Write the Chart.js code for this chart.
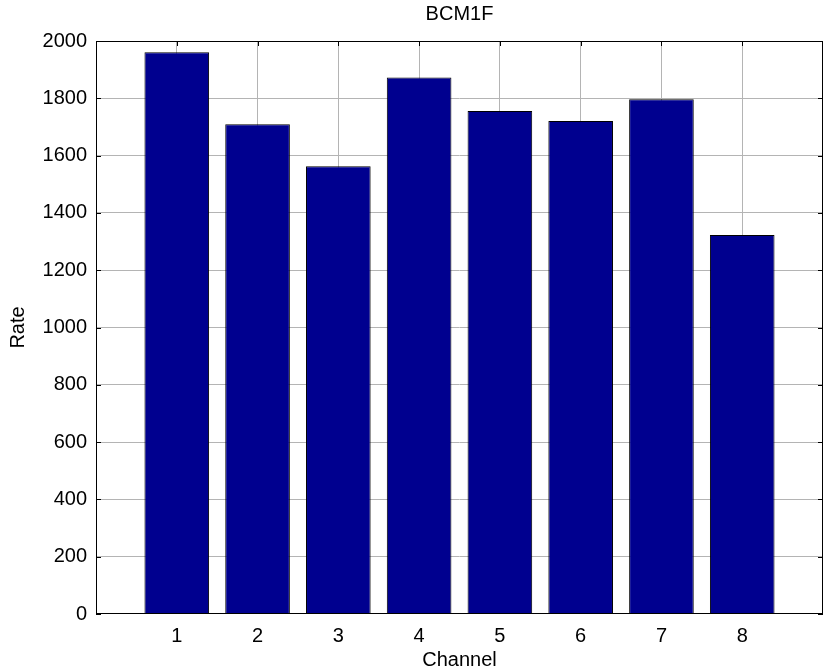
<!DOCTYPE html>
<html>
<head>
<meta charset="utf-8">
<script src="https://cdn.jsdelivr.net/npm/chart.js@4/dist/chart.umd.min.js"></script>
<style>
  html, body { margin: 0; padding: 0; background: #fff; }
  #wrap { width: 827px; height: 670px; }
</style>
</head>
<body>
<div id="wrap"><canvas id="c"></canvas></div>
<script>
// --- data ---
const channels = [1, 2, 3, 4, 5, 6, 7, 8];
const rates = [1961, 1709, 1563, 1873, 1756, 1721, 1797, 1323];
const yTicks = [0, 200, 400, 600, 800, 1000, 1200, 1400, 1600, 1800, 2000];
const chartTitle = "BCM1F";

const FONT = "'Liberation Sans', Arial, Helvetica, sans-serif";
const FS = 20;

// frame around plot area + small inward ticks (matlab style)
const boxPlugin = {
  id: "box",
  afterDraw(chart) {
    const { ctx, chartArea: a, scales } = chart;
    ctx.save();
    ctx.strokeStyle = "#000";
    ctx.lineWidth = 1;
    ctx.strokeRect(a.left + 0.5, a.top + 0.5, a.right - a.left - 1, a.bottom - a.top - 1);
    const len = 5;
    ctx.beginPath();
    for (const v of channels) {
      const x = Math.round(scales.x.getPixelForValue(v)) + 0.5;
      ctx.moveTo(x, a.top); ctx.lineTo(x, a.top + len);
    }
    for (const v of yTicks) {
      const y = Math.round(scales.y.getPixelForValue(v)) + 0.5;
      ctx.moveTo(a.left, y); ctx.lineTo(a.left + len, y);
      ctx.moveTo(a.right, y); ctx.lineTo(a.right - len, y);
    }
    ctx.stroke();
    ctx.restore();
  }
};

new Chart(document.getElementById("c"), {
  type: "bar",
  data: {
    datasets: [{
      label: "Rate",
      data: channels.map((c, i) => ({ x: c, y: rates[i] })),
      xAxisID: "x",
      yAxisID: "y",
      backgroundColor: "rgb(0,0,143)",
      borderColor: "#000",
      borderWidth: 1,
      barPercentage: 0.8,
      categoryPercentage: 1.0
    }]
  },
  options: {
    responsive: true,
    maintainAspectRatio: false,
    animation: false,
    layout: { padding: { left: 0, right: 4, top: 0, bottom: 0 } },
    plugins: {
      legend: { display: false },
      tooltip: { enabled: false },
      title: { display: false }
    },
    scales: {
      x: {
        type: "linear",
        min: 0,
        max: 9,
        offset: false,
        afterFit: s => { s.height = 56; s.paddingRight = 0; s.paddingLeft = 0; },
        ticks: {
          stepSize: 1,
          color: "#000",
          padding: 10,
          font: { family: FONT, size: FS },
          callback: v => (channels.includes(v) ? String(v) : "")
        },
        grid: {
          offset: false,
          drawTicks: false,
          color: c => (channels.includes(c.tick && c.tick.value) ? "#b4b4b4" : "rgba(0,0,0,0)")
        },
        border: { display: false },
        title: {
          display: true,
          text: "Channel",
          color: "#000",
          font: { family: FONT, size: FS, lineHeight: 1 },
          padding: { top: 0, bottom: 0 }
        }
      },
      // top axis only carries the title, centred over the plot area
      top: {
        type: "linear",
        position: "top",
        min: 0,
        max: 9,
        offset: false,
        afterFit: s => { s.height = 41; s.paddingRight = 0; s.paddingLeft = 0; },
        ticks: { display: false },
        grid: { display: false },
        border: { display: false },
        title: {
          display: true,
          text: chartTitle,
          color: "#000",
          font: { family: FONT, size: FS, lineHeight: 1 },
          padding: { top: 4, bottom: 0 }
        }
      },
      y: {
        min: 0,
        max: 2000,
        afterFit: s => { s.width = 96; },
        ticks: {
          stepSize: 200,
          color: "#000",
          padding: 9,
          font: { family: FONT, size: FS },
          callback: v => String(v)
        },
        grid: {
          drawTicks: false,
          color: c => (c.tick && c.tick.value > 0 && c.tick.value < 2000 ? "#b4b4b4" : "rgba(0,0,0,0)")
        },
        border: { display: false },
        title: {
          display: true,
          text: "Rate",
          color: "#000",
          font: { family: FONT, size: FS, lineHeight: 1 },
          padding: { top: 8, bottom: 0 }
        }
      }
    }
  },
  plugins: [boxPlugin]
});
</script>
</body>
</html>
